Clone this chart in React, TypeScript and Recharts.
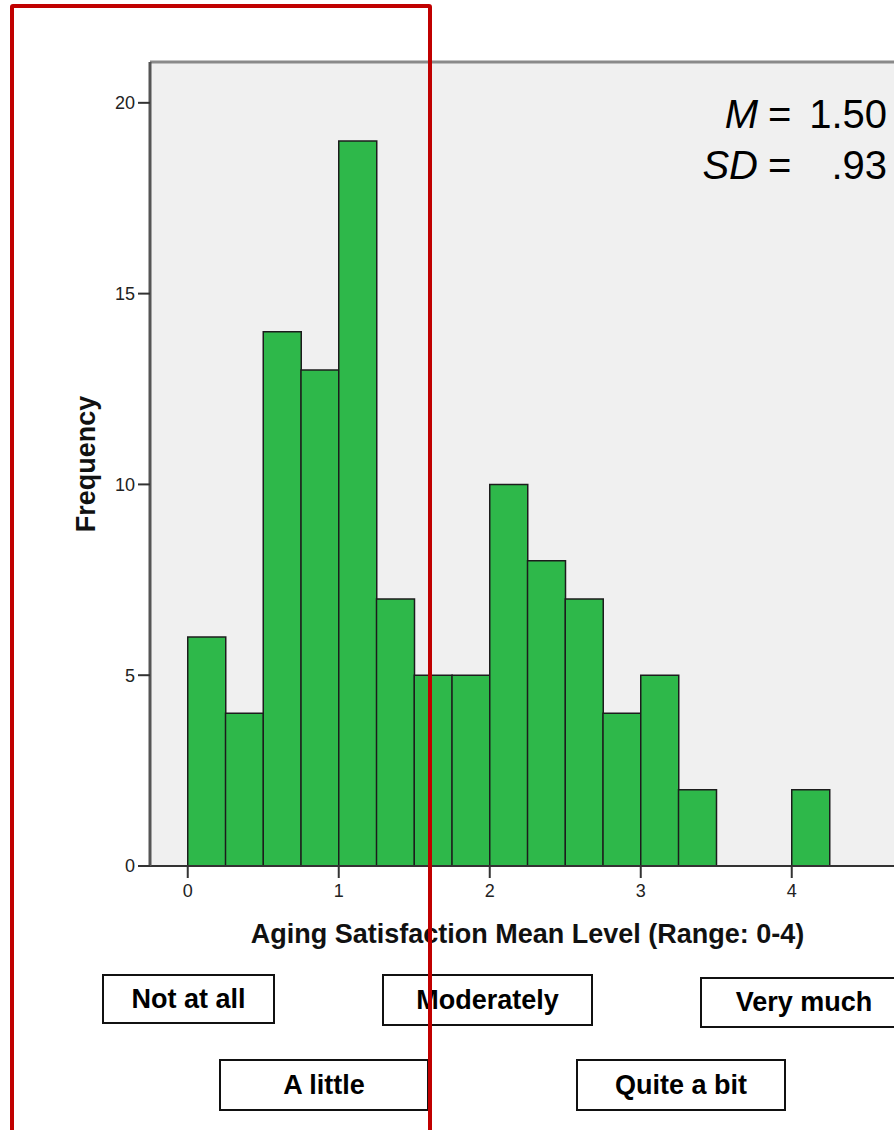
import React from 'react';
import {
    BarChart,
    Bar,
    XAxis,
    YAxis,
    CartesianGrid,
    ReferenceLine,
} from 'recharts';

// Histogram bins (width 0.25), padded with empty edge bins so the plot spans -0.25..4.75
const BIN_STARTS = [-0.25, 0, 0.25, 0.5, 0.75, 1, 1.25, 1.5, 1.75, 2, 2.25, 2.5, 2.75, 3, 3.25, 3.5, 3.75, 4, 4.25, 4.5];
const COUNTS = [null, 6, 4, 14, 13, 19, 7, 5, 5, 10, 8, 7, 4, 5, 2, 0, 0, 2, null, null];
const BIN_WIDTH = 0.25;

const X_TICKS = [0, 1, 2, 3, 4];
const Y_TICKS = [0, 5, 10, 15, 20];
const Y_MAX = 21.07;

const X_TITLE = 'Aging Satisfaction Mean Level (Range: 0-4)';
const Y_TITLE = 'Frequency';

const STATS = [
    { label: 'M', value: '1.50' },
    { label: 'SD', value: '.93' },
];

const LEVEL_BOXES = [
    { text: 'Not at all', left: 102, top: 974, width: 173, height: 50 },
    { text: 'Moderately', left: 382, top: 974, width: 211, height: 52 },
    { text: 'Very much', left: 700, top: 977, width: 208, height: 51 },
    { text: 'A little', left: 219, top: 1059, width: 210, height: 52 },
    { text: 'Quite a bit', left: 576, top: 1059, width: 210, height: 52 },
];

const tableData = BIN_STARTS.map((start, i) => ({
    bin: String(start),
    mid: start + BIN_WIDTH / 2,
    count: COUNTS[i],
}));

const FONT = '"Liberation Sans", Arial, sans-serif';

const XTitle = (props: any) => {
    const { x, y, width } = props.viewBox;
    return (
        <text x={x + width / 2} y={y + 77} textAnchor="middle" fontFamily={FONT} fontWeight="bold" fontSize={27} fill="#111">
            {X_TITLE}
        </text>
    );
};

const YTitle = (props: any) => {
    const { x, y, height } = props.viewBox;
    const cx = x + 35;
    const cy = y + height / 2;
    return (
        <text x={cx} y={cy} transform={`rotate(-90 ${cx} ${cy})`} textAnchor="middle" fontFamily={FONT} fontWeight="bold" fontSize={27} fill="#111">
            {Y_TITLE}
        </text>
    );
};

export default function App() {
    return (
        <div style={{ position: 'absolute', left: 0, top: 0, width: 894, height: 1130, overflow: 'hidden', background: '#fff', fontFamily: FONT }}>
            <BarChart
                width={920}
                height={1130}
                data={tableData}
                margin={{ top: 62, right: 15, bottom: 204, left: 60 }}
                barCategoryGap={0}
                barGap={0}
            >
                <CartesianGrid xAxisId="num" horizontal={false} vertical={false} fill="#F0F0F0" />
                <XAxis xAxisId="bins" dataKey="bin" type="category" hide height={0} />
                <XAxis
                    xAxisId="num"
                    dataKey="mid"
                    type="number"
                    domain={[-0.25, 4.75]}
                    ticks={X_TICKS}
                    allowDataOverflow
                    height={60}
                    tickSize={12}
                    tickMargin={6}
                    axisLine={{ stroke: '#333', strokeWidth: 2 }}
                    tickLine={{ stroke: '#333', strokeWidth: 2 }}
                    tick={{ fontSize: 18, fill: '#222', fontFamily: FONT }}
                    label={{ content: XTitle }}
                />
                <YAxis
                    type="number"
                    domain={[0, Y_MAX]}
                    ticks={Y_TICKS}
                    allowDataOverflow
                    width={90}
                    tickSize={12}
                    tickMargin={3}
                    axisLine={{ stroke: '#555', strokeWidth: 3 }}
                    tickLine={{ stroke: '#333', strokeWidth: 2 }}
                    tick={{ fontSize: 18, fill: '#222', fontFamily: FONT }}
                    label={{ content: YTitle }}
                />
                <ReferenceLine xAxisId="num" y={Y_MAX} stroke="#8a8a8a" strokeWidth={3} />
                <Bar
                    xAxisId="bins"
                    dataKey="count"
                    fill="#2EB84A"
                    stroke="#1c1c1c"
                    strokeWidth={1.5}
                    isAnimationActive={false}
                />
            </BarChart>

            <svg width={894} height={200} style={{ position: 'absolute', left: 0, top: 0 }}>
                {STATS.map((s, i) => {
                    const y = 128 + i * 51;
                    return (
                        <g key={s.label} fontFamily={FONT} fontSize={40} fill="#000">
                            <text x={758} y={y} textAnchor="end" fontStyle="italic">{s.label}</text>
                            <text x={768} y={y}>=</text>
                            <text x={887} y={y} textAnchor="end">{s.value}</text>
                        </g>
                    );
                })}
            </svg>

            {LEVEL_BOXES.map((b) => (
                <div
                    key={b.text}
                    style={{
                        position: 'absolute',
                        left: b.left,
                        top: b.top,
                        width: b.width,
                        height: b.height,
                        boxSizing: 'border-box',
                        border: '2px solid #111',
                        background: '#fff',
                        display: 'flex',
                        alignItems: 'center',
                        justifyContent: 'center',
                        fontWeight: 'bold',
                        fontSize: 27,
                        color: '#000',
                    }}
                >
                    {b.text}
                </div>
            ))}

            <div
                style={{
                    position: 'absolute',
                    left: 10,
                    top: 4,
                    width: 422,
                    height: 1200,
                    boxSizing: 'border-box',
                    border: '4px solid #C00000',
                    borderRadius: 3,
                }}
            />
        </div>
    );
}
